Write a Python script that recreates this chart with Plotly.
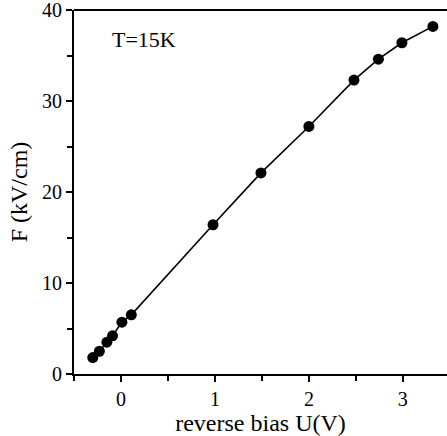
import plotly.graph_objects as go

bias_v = [-0.30, -0.23, -0.15, -0.09, 0.01, 0.11, 0.98, 1.49, 2.00, 2.48, 2.74, 2.99, 3.32]
field_kv_cm = [1.8, 2.5, 3.5, 4.2, 5.7, 6.5, 16.4, 22.1, 27.2, 32.3, 34.6, 36.4, 38.2]

x_ticks = [0, 1, 2, 3]
y_ticks = [0, 10, 20, 30, 40]

serif = "Liberation Serif, Times New Roman, serif"
font = dict(family=serif, size=20, color="black")
title_font = dict(family=serif, size=24, color="black")

fig = go.Figure()
fig.add_trace(go.Scatter(
    x=bias_v, y=field_kv_cm, mode="lines+markers",
    line=dict(color="black", width=1.6),
    marker=dict(color="black", size=11),
    showlegend=False,
))

fig.add_annotation(x=-0.12, y=36.8, xref="x", yref="y", text="T=15K",
                   showarrow=False, xanchor="left", yanchor="middle",
                   font=dict(family=serif, size=22, color="black"))

# top frame line
fig.add_shape(type="line", xref="paper", yref="paper", x0=0, x1=1, y0=1, y1=1,
              line=dict(color="black", width=2))

fig.update_layout(
    width=447, height=436,
    margin=dict(l=74, r=0, t=10, b=62),
    paper_bgcolor="white", plot_bgcolor="white",
    font=font,
    xaxis=dict(
        range=[-0.5, 3.47], tickvals=x_ticks, ticktext=[str(v) for v in x_ticks],
        showgrid=False, zeroline=False,
        showline=True, linecolor="black", linewidth=2, mirror=False,
        ticks="outside", ticklen=6, tickwidth=2, tickcolor="black",
        minor=dict(ticks="outside", dtick=0.5, tick0=0, ticklen=5, tickwidth=2, tickcolor="black"),
        title=dict(text="reverse bias U(V)", standoff=1, font=title_font),
        tickfont=font, ticklabeloverflow="allow",
    ),
    yaxis=dict(
        range=[0, 40], tickvals=y_ticks, ticktext=[str(v) for v in y_ticks],
        showgrid=False, zeroline=False,
        showline=True, linecolor="black", linewidth=2, mirror=False,
        ticks="outside", ticklen=6, tickwidth=2, tickcolor="black",
        minor=dict(ticks="outside", dtick=5, tick0=0, ticklen=5, tickwidth=2, tickcolor="black"),
        title=dict(text="F (kV/cm)", standoff=8, font=title_font),
        tickfont=font, ticklabeloverflow="allow",
    ),
)

fig.write_html("out.html")
